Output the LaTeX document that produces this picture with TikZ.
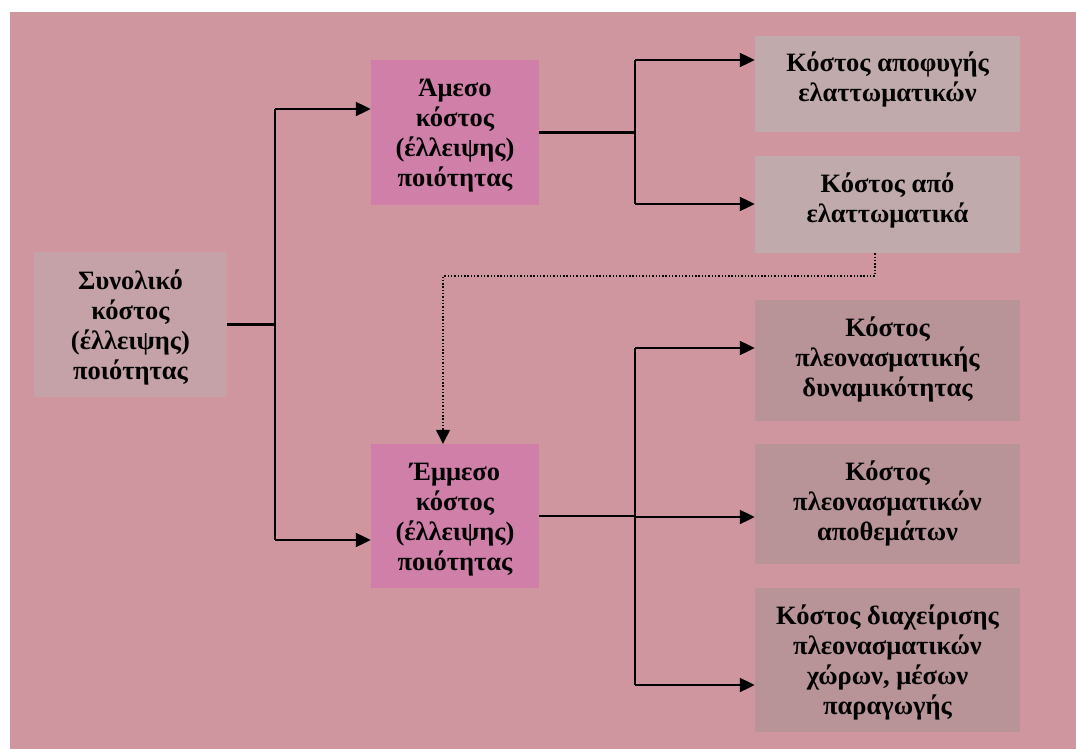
\documentclass[tikz,border=0pt]{standalone}
\usepackage{fontspec}
\setmainfont{Liberation Serif}
\usetikzlibrary{arrows.meta}
\definecolor{bgpink}{RGB}{208,150,160}
\definecolor{totfill}{RGB}{196,162,168}
\definecolor{kindfill}{RGB}{208,128,168}
\definecolor{defectfill}{RGB}{192,170,172}
\definecolor{surplusfill}{RGB}{184,148,152}
\begin{document}
\begin{tikzpicture}[x=1pt,y=-1pt,
  box/.style={rectangle, draw=none, inner sep=0pt},
  txt/.style={anchor=north, inner sep=0pt, align=center,
    font=\fontsize{26.5}{30}\selectfont\bfseries},
  conn/.style={line width=2.1pt, black},
  arr/.style={conn, -{Triangle[length=15pt,width=14pt]}},
  dotarr/.style={line width=1.4pt, dash pattern=on 1.4pt off 1.9pt,
    -{Triangle[length=14pt,width=14pt]}}]
  \useasboundingbox (0,0) rectangle (1076,749);
  \fill[white] (0,0) rectangle (1076,749);
  \fill[bgpink] (10,12) rectangle (1076,749);

  % boxes
  \node[box, fill=totfill, minimum width=193pt, minimum height=145pt] (tot) at (130.5,324.5) {};
  \node[box, fill=kindfill, minimum width=168pt, minimum height=145pt] (dir) at (455,132.5) {};
  \node[box, fill=kindfill, minimum width=168pt, minimum height=144pt] (ind) at (455,516) {};
  \node[box, fill=defectfill, minimum width=265pt, minimum height=96pt] (r1) at (887.5,84) {};
  \node[box, fill=defectfill, minimum width=265pt, minimum height=97pt] (r2) at (887.5,204.5) {};
  \node[box, fill=surplusfill, minimum width=265pt, minimum height=121pt] (r3) at (887.5,360.5) {};
  \node[box, fill=surplusfill, minimum width=265pt, minimum height=120pt] (r4) at (887.5,504) {};
  \node[box, fill=surplusfill, minimum width=265pt, minimum height=144pt] (r5) at (887.5,660) {};

  % box texts
  \newcommand\firstline{\rule{0pt}{24pt}}
  \node[txt] (tot-t) at ([yshift=-13pt]tot.north) {\firstline Συνολικό\\κόστος\\(έλλειψης)\\ποιότητας};
  \node[txt] (dir-t) at ([yshift=-12pt]dir.north) {\firstline Άμεσο\\κόστος\\(έλλειψης)\\ποιότητας};
  \node[txt] (ind-t) at ([yshift=-12pt]ind.north) {\firstline Έμμεσο\\κόστος\\(έλλειψης)\\ποιότητας};
  \node[txt] (r1-t) at ([yshift=-12pt]r1.north) {\firstline Κόστος αποφυγής\\ελαττωματικών};
  \node[txt] (r2-t) at ([yshift=-12pt]r2.north) {\firstline Κόστος από\\ελαττωματικά};
  \node[txt] (r3-t) at ([yshift=-12pt]r3.north) {\firstline Κόστος\\πλεονασματικής\\δυναμικότητας};
  \node[txt] (r4-t) at ([yshift=-12pt]r4.north) {\firstline Κόστος\\πλεονασματικών\\αποθεμάτων};
  \node[txt] (r5-t) at ([yshift=-12pt]r5.north) {\firstline Κόστος διαχείρισης\\πλεονασματικών\\χώρων, μέσων\\παραγωγής};

  % junction points
  \coordinate (t1) at (275,109);
  \coordinate (t2) at (275,540);
  \coordinate (u1) at (635,60);
  \coordinate (u2) at (635,204);
  \coordinate (v1) at (635,348);
  \coordinate (v2) at (635,517);
  \coordinate (v3) at (635,685);
  \coordinate (d1) at (875,276);
  \coordinate (d2) at (443,276);

  % total cost splits into direct and indirect
  \draw[conn] (tot.east) -- (tot.east -| t1);
  \draw[conn] (t1) -- (t2);
  \draw[arr] (t1) -- (t1 -| dir.west);
  \draw[arr] (t2) -- (t2 -| ind.west);

  % direct cost branches
  \draw[conn] (dir.east) -- (dir.east -| u1);
  \draw[conn] (u1) -- (u2);
  \draw[arr] (u1) -- (u1 -| r1.west);
  \draw[arr] (u2) -- (u2 -| r2.west);

  % indirect cost branches
  \draw[conn] (ind.east) -- (ind.east -| v2);
  \draw[conn] (v1) -- (v3);
  \draw[arr] (v1) -- (v1 -| r3.west);
  \draw[arr] (v2) -- (v2 -| r4.west);
  \draw[arr] (v3) -- (v3 -| r5.west);

  % defects feed into indirect cost
  \draw[dotarr] (r2.south -| d1) -- (d1) -- (d2) -- (d2 |- ind.north);
\end{tikzpicture}
\end{document}
